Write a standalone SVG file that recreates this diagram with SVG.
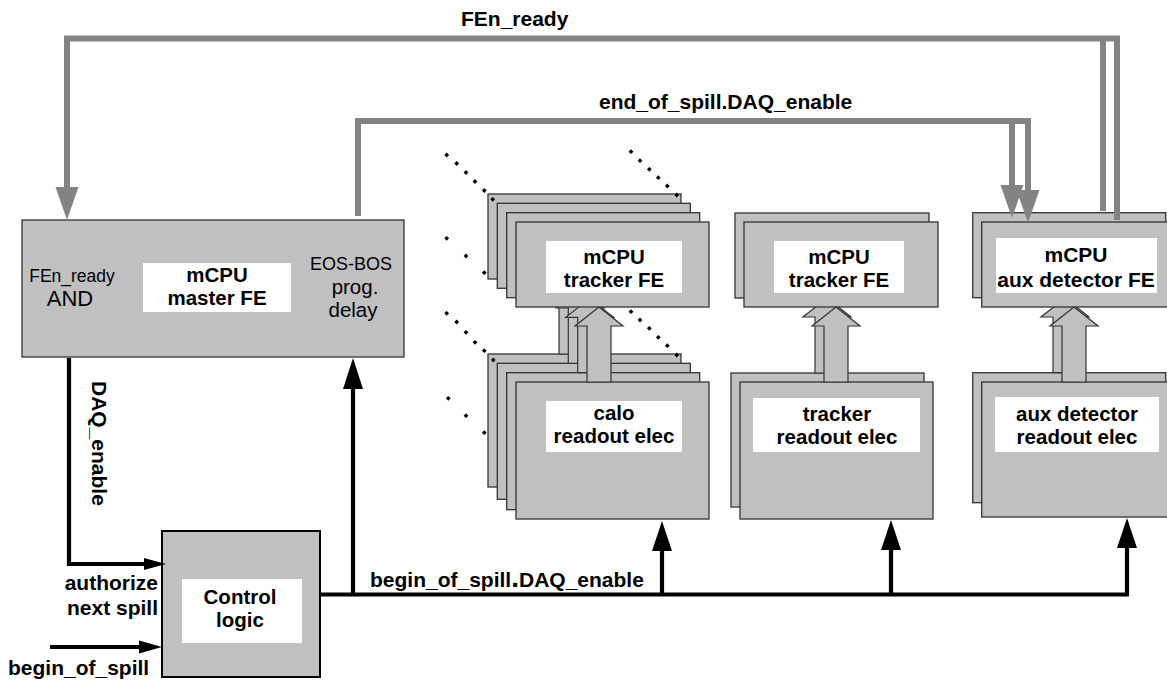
<svg xmlns="http://www.w3.org/2000/svg" xmlns:xlink="http://www.w3.org/1999/xlink" width="1167" height="681" viewBox="0 0 1167 681">
<style>
.box{fill:#c0c0c0;stroke:#333;stroke-width:1.3}
.lbl{fill:#fff;stroke:none}
.fat{fill:#c0c0c0;stroke:#333;stroke-width:1.2;stroke-linejoin:miter}
.g{fill:none;stroke:#838383;stroke-width:6}
.gh{fill:#838383;stroke:none}
.k{fill:none;stroke:#000;stroke-width:4.2}
.kh{fill:#000;stroke:none}
.t{font-family:"Liberation Sans",Arial,Helvetica,sans-serif;font-weight:bold;font-size:21px;fill:#000}
.bl{font-size:20.5px}
.n{font-family:"Liberation Sans",Arial,Helvetica,sans-serif;font-weight:normal;fill:#000}
.m{text-anchor:middle}
</style>
<defs>
<path id="dm" d="M0,-2.4 L2.4,0 L0,2.4 L-2.4,0Z"/>
</defs>
<rect width="1167" height="681" fill="#fff"/>

<g id="master-fe">
<rect class="box" x="22" y="220" width="382" height="137"/>
<rect class="lbl" x="143" y="263" width="148" height="49"/>
<text class="t bl m" x="217" y="282">mCPU</text>
<text class="t bl m" x="217" y="305">master FE</text>
<text class="n m" x="72" y="282" font-size="17.5">FEn_ready</text>
<text class="n m" x="70" y="306" font-size="22">AND</text>
<text class="n m" x="351" y="270" font-size="18">EOS-BOS</text>
<text class="n m" x="355" y="294" font-size="20.5">prog.</text>
<text class="n m" x="353" y="317" font-size="20.5">delay</text>
</g>

<g id="control-logic">
<rect x="162" y="531" width="158" height="146" fill="#c0c0c0" stroke="#000" stroke-width="2"/>
<rect class="lbl" x="182" y="579" width="120" height="64"/>
<text class="t bl m" x="240" y="604">Control</text>
<text class="t bl m" x="240" y="627">logic</text>
</g>

<g id="calo-stack">
<rect class="box" x="488" y="354" width="193" height="133"/>
<rect class="box" x="488" y="194" width="193" height="85"/>
<polygon class="fat" points="571,279.7 595,298.7 583,298.7 583,354 559,354 559,298.7 547,298.7"/>
<rect class="box" x="497.3" y="363.3" width="193" height="136"/>
<rect class="box" x="497.3" y="203.3" width="193" height="85"/>
<polygon class="fat" points="580.3,289 604.3,308 592.3,308 592.3,363.3 568.3,363.3 568.3,308 556.3,308"/>
<rect class="box" x="506.7" y="372.7" width="193" height="137"/>
<rect class="box" x="506.7" y="212.7" width="193" height="85"/>
<polygon class="fat" points="589.7,298.4 613.7,317.4 601.7,317.4 601.7,372.7 577.7,372.7 577.7,317.4 565.7,317.4"/>
<rect class="box" x="516" y="382" width="193" height="137"/>
<rect class="box" x="516" y="222" width="193" height="85"/>
<polygon class="fat" points="599,307 623,326 611,326 611,382 587,382 587,326 575,326"/>
<rect class="lbl" x="546" y="241" width="136" height="52"/>
<text class="t bl m" x="614" y="264">mCPU</text>
<text class="t bl m" x="614" y="287">tracker FE</text>
<rect class="lbl" x="546" y="401" width="136" height="51"/>
<text class="t bl m" x="614" y="420">calo</text>
<text class="t bl m" x="614" y="443">readout elec</text>
</g>

<g id="tracker-stack">
<rect class="box" x="731" y="373" width="193" height="134"/>
<rect class="box" x="735" y="213" width="194" height="85"/>
<polygon class="fat" points="827,298 851,317 839,317 839,373 815,373 815,317 803,317"/>
<rect class="box" x="740" y="382" width="193" height="137"/>
<rect class="box" x="744" y="222" width="194" height="85"/>
<polygon class="fat" points="836,307 860,326 848,326 848,382 824,382 824,326 812,326"/>
<rect class="lbl" x="774" y="241" width="130" height="52"/>
<text class="t bl m" x="839" y="264">mCPU</text>
<text class="t bl m" x="839" y="287">tracker FE</text>
<rect class="lbl" x="753" y="398" width="167" height="54"/>
<text class="t bl m" x="837" y="421">tracker</text>
<text class="t bl m" x="837" y="444">readout elec</text>
</g>

<g id="aux-stack">
<rect class="box" x="972.7" y="372.7" width="193" height="130"/>
<rect class="box" x="972.7" y="212.7" width="193" height="85"/>
<polygon class="fat" points="1065,298 1089,317 1077,317 1077,372.7 1053,372.7 1053,317 1041,317"/>
<rect class="box" x="981.7" y="382" width="193" height="135"/>
<rect class="box" x="981.7" y="222" width="193" height="85"/>
<polygon class="fat" points="1074,307 1098,326 1086,326 1086,382 1062,382 1062,326 1050,326"/>
<rect class="lbl" x="996" y="238" width="161" height="55"/>
<text class="t m" x="1076" y="262">mCPU</text>
<text class="t m" x="1076" y="287">aux detector FE</text>
<rect class="lbl" x="995" y="397" width="164" height="55"/>
<text class="t bl m" x="1077" y="421">aux detector</text>
<text class="t bl m" x="1077" y="444">readout elec</text>
</g>

<g id="dots">
<use href="#dm" xlink:href="#dm" x="446.7" y="155"/>
<use href="#dm" xlink:href="#dm" x="456.7" y="163.5"/>
<use href="#dm" xlink:href="#dm" x="466" y="172.5"/>
<use href="#dm" xlink:href="#dm" x="475" y="181.5"/>
<use href="#dm" xlink:href="#dm" x="484.3" y="190.5"/>
<use href="#dm" xlink:href="#dm" x="492.7" y="199.3"/>
<use href="#dm" xlink:href="#dm" x="631" y="151.7"/>
<use href="#dm" xlink:href="#dm" x="640" y="160.7"/>
<use href="#dm" xlink:href="#dm" x="649.3" y="169.3"/>
<use href="#dm" xlink:href="#dm" x="658.3" y="177.7"/>
<use href="#dm" xlink:href="#dm" x="667.3" y="186"/>
<use href="#dm" xlink:href="#dm" x="676.7" y="195"/>
<use href="#dm" xlink:href="#dm" x="446.7" y="238.3"/>
<use href="#dm" xlink:href="#dm" x="466" y="256"/>
<use href="#dm" xlink:href="#dm" x="484.3" y="272.7"/>
<use href="#dm" xlink:href="#dm" x="446.7" y="313.3"/>
<use href="#dm" xlink:href="#dm" x="456.7" y="322"/>
<use href="#dm" xlink:href="#dm" x="466" y="332.3"/>
<use href="#dm" xlink:href="#dm" x="475" y="342.3"/>
<use href="#dm" xlink:href="#dm" x="484.3" y="350.7"/>
<use href="#dm" xlink:href="#dm" x="493.3" y="360"/>
<use href="#dm" xlink:href="#dm" x="631" y="311.7"/>
<use href="#dm" xlink:href="#dm" x="640" y="320"/>
<use href="#dm" xlink:href="#dm" x="649.3" y="328.3"/>
<use href="#dm" xlink:href="#dm" x="658.3" y="337.3"/>
<use href="#dm" xlink:href="#dm" x="667.3" y="345.7"/>
<use href="#dm" xlink:href="#dm" x="676.7" y="355"/>
<use href="#dm" xlink:href="#dm" x="448.3" y="398.3"/>
<use href="#dm" xlink:href="#dm" x="466" y="415.7"/>
<use href="#dm" xlink:href="#dm" x="484.3" y="432.7"/>
</g>

<g id="connectors">
<path class="g" d="M1117,220 V38.5 H67 V188"/>
<path class="g" d="M1103,211 V41"/>
<polygon class="gh" points="67,220 55.5,187 78.5,187"/>
<path class="g" d="M358,216 V121 H1028 V192"/>
<path class="g" d="M1012,121 V187"/>
<polygon class="gh" points="1012,218 1000.5,185 1023.5,185"/>
<polygon class="gh" points="1028,223 1016.5,190 1039.5,190"/>

<path class="k" d="M69,358 V564 H146"/>
<polygon class="kh" points="166,564 144,558 144,570"/>
<path class="k" d="M50,647 H141"/>
<polygon class="kh" points="162,647 139,640.5 139,653.5"/>
<path class="k" d="M319,594.5 H1129"/>
<path class="k" d="M353,594.5 V386"/>
<polygon class="kh" points="353,358 343,389 363,389"/>
<path class="k" d="M662,594.5 V548"/>
<polygon class="kh" points="662,521 652,551 672,551"/>
<path class="k" d="M891,594.5 V548"/>
<polygon class="kh" points="891,520 881,550 901,550"/>
<path class="k" d="M1127,594.5 V546"/>
<polygon class="kh" points="1127,518 1117,548 1137,548"/>
</g>

<g id="labels">
<text class="t" x="461" y="26">FEn_ready</text>
<text class="t" x="599" y="109">end_of_spill.DAQ_enable</text>
<text class="t" x="370" y="587" font-size="21.5">begin_of_spill<tspan font-size="28">.</tspan>DAQ_enable</text>
<text class="t" x="158" y="590" text-anchor="end" font-size="22">authorize</text>
<text class="t" x="158" y="615" text-anchor="end" font-size="22">next spill</text>
<text class="t" x="8" y="675">begin_of_spill</text>
<text class="t" transform="translate(92,381) rotate(90)">DAQ_enable</text>
</g>
</svg>
